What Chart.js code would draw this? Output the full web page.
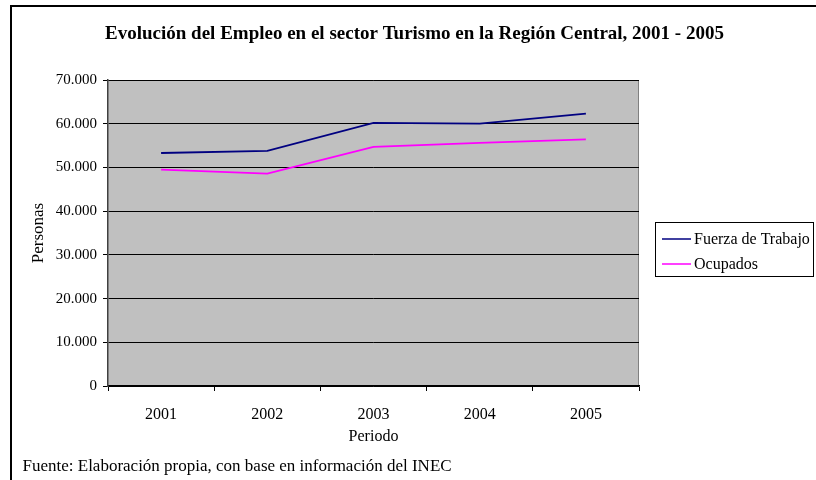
<!DOCTYPE html>
<html>
<head>
<meta charset="utf-8">
<script src="https://cdn.jsdelivr.net/npm/chart.js@4"></script>
<style>
html,body{margin:0;padding:0;background:#fff;}
#wrap{width:816px;height:480px;position:relative;}
</style>
</head>
<body>
<div id="wrap"><canvas id="c" width="816" height="480"></canvas></div>
<script>
const chartTitle = 'Evolución del Empleo en el sector Turismo en la Región Central, 2001 - 2005';
const sourceNote = 'Fuente: Elaboración propia, con base en información del INEC';
const categories = ['2001', '2002', '2003', '2004', '2005'];
const fuerzaTrabajo = [53300, 53800, 60200, 60000, 62300];
const ocupados = [49500, 48600, 54700, 55600, 56400];
const yTickLabels = ['0', '10.000', '20.000', '30.000', '40.000', '50.000', '60.000', '70.000'];
const xAxisTitle = 'Periodo';
const yAxisTitle = 'Personas';
const seriesNames = ['Fuerza de Trabajo', 'Ocupados'];

const SERIF = '"Liberation Serif", "Times New Roman", serif';

const decor = {
  id: 'decor',
  beforeDraw(chart) {
    const ctx = chart.ctx, a = chart.chartArea;
    ctx.save();
    ctx.fillStyle = '#fff';
    ctx.fillRect(0, 0, chart.width, chart.height);
    ctx.fillStyle = '#000';
    ctx.fillRect(10, 5, chart.width - 10, 2);
    ctx.fillRect(10, 5, 2, chart.height - 5);
    ctx.fillStyle = '#C0C0C0';
    ctx.fillRect(a.left, a.top, a.right - a.left, a.bottom - a.top);
    ctx.strokeStyle = '#808080';
    ctx.lineWidth = 1;
    ctx.beginPath();
    ctx.moveTo(a.left, a.top + 0.5);
    ctx.lineTo(a.right - 0.5, a.top + 0.5);
    ctx.lineTo(a.right - 0.5, a.bottom);
    ctx.stroke();
    ctx.restore();
  },
  afterDraw(chart) {
    const ctx = chart.ctx;
    ctx.save();
    ctx.fillStyle = '#000';
    ctx.font = 'bold 19px ' + SERIF;
    ctx.textAlign = 'center';
    ctx.textBaseline = 'middle';
    ctx.fillText(chartTitle, 414.5, 34);
    ctx.font = '17px ' + SERIF;
    ctx.textAlign = 'left';
    ctx.fillText(sourceNote, 22.5, 467);
    const lx = 655.5, ly = 222.5, lw = 158, lh = 54;
    ctx.fillStyle = '#fff';
    ctx.fillRect(lx, ly, lw, lh);
    ctx.strokeStyle = '#000';
    ctx.lineWidth = 1;
    ctx.strokeRect(lx, ly, lw, lh);
    chart.data.datasets.forEach((ds, i) => {
      const y = 239 + i * 25;
      ctx.strokeStyle = ds.borderColor;
      ctx.lineWidth = 1.5;
      ctx.beginPath();
      ctx.moveTo(662, y);
      ctx.lineTo(691, y);
      ctx.stroke();
      ctx.fillStyle = '#000';
      ctx.font = '16px ' + SERIF;
      ctx.textAlign = 'left';
      ctx.textBaseline = 'middle';
      ctx.fillText(ds.label, 694, y + 0.5);
    });
    ctx.restore();
  }
};

new Chart(document.getElementById('c'), {
  type: 'line',
  data: {
    labels: categories,
    datasets: [
      { label: seriesNames[0], data: fuerzaTrabajo, borderColor: '#000080', borderWidth: 1.8, pointRadius: 0, tension: 0, fill: false },
      { label: seriesNames[1], data: ocupados, borderColor: '#FF00FF', borderWidth: 1.8, pointRadius: 0, tension: 0, fill: false }
    ]
  },
  options: {
    responsive: false,
    animation: false,
    layout: { padding: { top: 80, right: 177, bottom: 0, left: 0 } },
    plugins: {
      legend: { display: false },
      title: { display: false },
      tooltip: { enabled: false }
    },
    scales: {
      x: {
        offset: true,
        afterFit(s) { s.height = 94; },
        grid: { offset: true, drawOnChartArea: false, drawTicks: true, tickLength: 5, color: '#000' },
        border: { display: true, color: '#000', width: 1.5 },
        ticks: { color: '#000', padding: 14, font: { family: SERIF, size: 16 }, maxRotation: 0 },
        title: { display: true, text: xAxisTitle, color: '#000', font: { family: SERIF, size: 16 }, padding: { top: 0, bottom: 34 } }
      },
      y: {
        min: 0, max: 70000,
        afterFit(s) { s.width = 108; },
        ticks: { stepSize: 10000, color: '#000', padding: 6, font: { family: SERIF, size: 15 },
          callback: (v, i) => yTickLabels[i] },
        grid: { color: '#000', lineWidth: 1, tickLength: 5, drawTicks: true },
        border: { display: true, color: '#404040', width: 1.5 },
        title: { display: true, text: yAxisTitle, color: '#000', font: { family: SERIF, size: 17 }, padding: { top: 28, bottom: 0 } }
      }
    }
  },
  plugins: [decor]
});
</script>
</body>
</html>
